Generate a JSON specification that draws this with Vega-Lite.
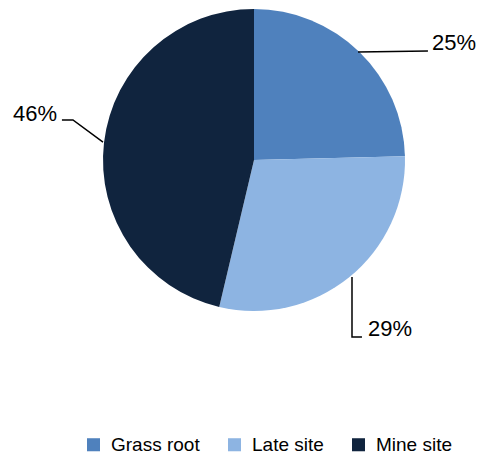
{
  "$schema": "https://vega.github.io/schema/vega-lite/v6.json",
  "width": 302,
  "height": 302,
  "autosize": {"type": "none"},
  "padding": {"left": 103, "top": 9, "right": 76, "bottom": 146},
  "background": "white",
  "config": {"view": {"stroke": null}},
  "datasets": {
    "slices": [
      {"category": "Grass root", "share": 0.246, "lx": 1.179, "ly": 0.775},
      {"category": "Late site", "share": 0.291, "lx": 0.755, "ly": -1.116},
      {"category": "Mine site", "share": 0.463, "lx": -1.304, "ly": 0.305}
    ],
    "leaders": [
      {"category": "Grass root", "step": 1, "lx": 0.689, "ly": 0.715},
      {"category": "Grass root", "step": 2, "lx": 1.152, "ly": 0.722},
      {"category": "Late site", "step": 1, "lx": 0.649, "ly": -0.775},
      {"category": "Late site", "step": 2, "lx": 0.649, "ly": -1.172},
      {"category": "Late site", "step": 3, "lx": 0.715, "ly": -1.172},
      {"category": "Mine site", "step": 1, "lx": -1.0, "ly": 0.119},
      {"category": "Mine site", "step": 2, "lx": -1.199, "ly": 0.265},
      {"category": "Mine site", "step": 3, "lx": -1.272, "ly": 0.265}
    ]
  },
  "layer": [
    {
      "data": {"name": "slices"},
      "mark": {"type": "arc", "outerRadius": 151},
      "encoding": {
        "theta": {"field": "share", "type": "quantitative", "stack": true},
        "color": {
          "field": "category",
          "type": "nominal",
          "scale": {
            "domain": ["Grass root", "Late site", "Mine site"],
            "range": ["#4F81BD", "#8DB4E2", "#10243E"]
          },
          "legend": {
            "title": null,
            "orient": "none",
            "direction": "horizontal",
            "legendX": -19,
            "legendY": 426,
            "symbolType": "square",
            "symbolSize": 170,
            "symbolStrokeWidth": 0,
            "labelFont": "Liberation Sans",
            "labelFontSize": 19,
            "labelColor": "#000000",
            "labelOffset": 8,
            "columnPadding": 25,
            "padding": 0
          }
        }
      }
    },
    {
      "data": {"name": "leaders"},
      "mark": {"type": "line", "color": "#000000", "strokeWidth": 1.5, "clip": false},
      "encoding": {
        "x": {"field": "lx", "type": "quantitative", "scale": {"domain": [-1, 1]}, "axis": null},
        "y": {"field": "ly", "type": "quantitative", "scale": {"domain": [-1, 1]}, "axis": null},
        "detail": {"field": "category"},
        "order": {"field": "step", "type": "quantitative"}
      }
    },
    {
      "data": {"name": "slices"},
      "transform": [{"filter": "datum.category !== 'Mine site'"}],
      "mark": {"type": "text", "align": "left", "baseline": "middle", "font": "Liberation Sans", "fontSize": 22, "color": "#000000"},
      "encoding": {
        "x": {"field": "lx", "type": "quantitative", "scale": {"domain": [-1, 1]}, "axis": null},
        "y": {"field": "ly", "type": "quantitative", "scale": {"domain": [-1, 1]}, "axis": null},
        "text": {"field": "share", "type": "quantitative", "format": ".0%"}
      }
    },
    {
      "data": {"name": "slices"},
      "transform": [{"filter": "datum.category === 'Mine site'"}],
      "mark": {"type": "text", "align": "right", "baseline": "middle", "font": "Liberation Sans", "fontSize": 22, "color": "#000000"},
      "encoding": {
        "x": {"field": "lx", "type": "quantitative", "scale": {"domain": [-1, 1]}, "axis": null},
        "y": {"field": "ly", "type": "quantitative", "scale": {"domain": [-1, 1]}, "axis": null},
        "text": {"field": "share", "type": "quantitative", "format": ".0%"}
      }
    }
  ]
}
